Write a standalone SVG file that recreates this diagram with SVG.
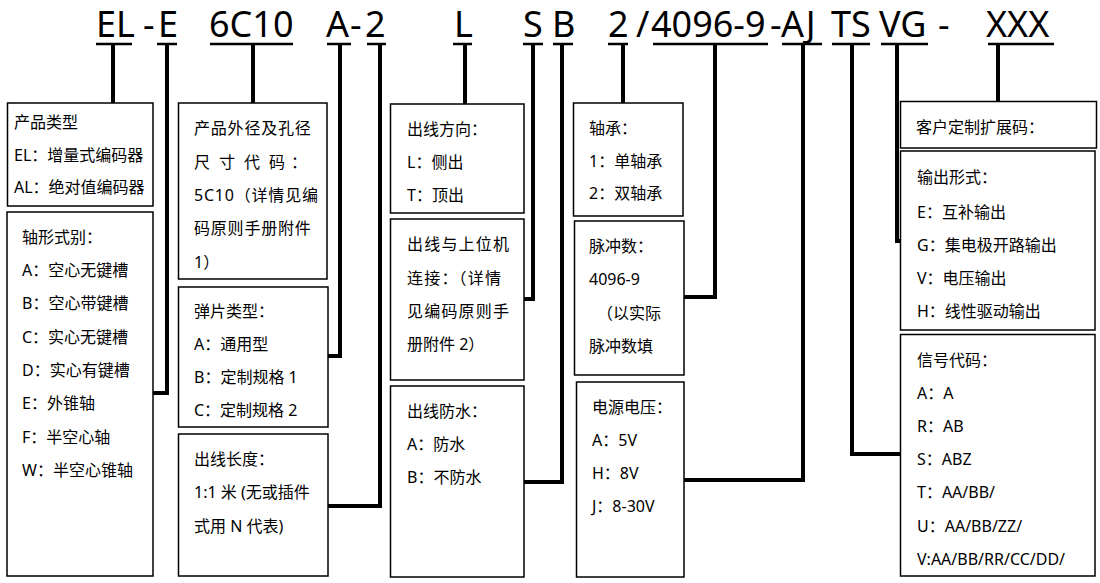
<svg xmlns="http://www.w3.org/2000/svg" width="1100" height="583" viewBox="0 0 1100 583">
<style>
.bg{fill:#fff}
.box{fill:none;stroke:#000;stroke-width:1.5}
.t{font-family:"Noto Sans","Noto Sans CJK SC",sans-serif;font-size:16px;fill:#000}
.h{font-family:"Noto Sans","Noto Sans CJK SC",sans-serif;font-size:36px;fill:#000}
.ul{stroke:#000;stroke-width:2.5}
.c{fill:none;stroke:#000;stroke-width:4;stroke-linejoin:miter;stroke-linecap:butt}
.sp{letter-spacing:0.8px}
.sp2{letter-spacing:1.2px}
</style>
<rect class="bg" x="0" y="0" width="1100" height="583"/>

<g id="header">
<text class="h" x="96" y="37">EL</text>
<text class="h" x="143" y="37">-</text>
<text class="h" x="158" y="37">E</text>
<text class="h" x="209" y="37">6C10</text>
<text class="h" x="326" y="37">A</text>
<text class="h" x="350" y="37">-</text>
<text class="h" x="365" y="37">2</text>
<text class="h" x="454" y="37">L</text>
<text class="h" x="523" y="37">S</text>
<text class="h" x="552" y="37">B</text>
<text class="h" x="608" y="37">2</text>
<text class="h" x="636" y="37">/</text>
<text class="h" x="651" y="37">4096-9</text>
<text class="h" x="770" y="37">-</text>
<text class="h" x="781" y="37">AJ</text>
<text class="h" x="831" y="37">TS</text>
<text class="h" x="879" y="37">VG</text>
<text class="h" x="938" y="37">-</text>
<text class="h" x="986" y="37">XXX</text>
<line class="ul" x1="96" y1="44" x2="132" y2="44"/>
<line class="ul" x1="157" y1="44" x2="177" y2="44"/>
<line class="ul" x1="210" y1="44" x2="293" y2="44"/>
<line class="ul" x1="327" y1="44" x2="351" y2="44"/>
<line class="ul" x1="367" y1="44" x2="386" y2="44"/>
<line class="ul" x1="453" y1="44" x2="472" y2="44"/>
<line class="ul" x1="523" y1="44" x2="543" y2="44"/>
<line class="ul" x1="553" y1="44" x2="573" y2="44"/>
<line class="ul" x1="608" y1="44" x2="628" y2="44"/>
<line class="ul" x1="653" y1="44" x2="768" y2="44"/>
<line class="ul" x1="782" y1="44" x2="822" y2="44"/>
<line class="ul" x1="832" y1="44" x2="870" y2="44"/>
<line class="ul" x1="881" y1="44" x2="928" y2="44"/>
<line class="ul" x1="988" y1="44" x2="1054" y2="44"/>
</g>

<g id="connectors">
<path class="c" d="M113 44V103"/>
<path class="c" d="M167 44V393H153"/>
<path class="c" d="M253 44V103"/>
<path class="c" d="M340 44V356H328"/>
<path class="c" d="M380 44V506H328"/>
<path class="c" d="M465 44V104"/>
<path class="c" d="M533 44V299H524"/>
<path class="c" d="M562 44V482H524"/>
<path class="c" d="M623 44V103"/>
<path class="c" d="M715 44V297H684"/>
<path class="c" d="M803 44V480H684"/>
<path class="c" d="M852 44V454H900"/>
<path class="c" d="M897 44V241H900"/>
<path class="c" d="M998 44V101"/>
</g>

<g id="n-product-type">
<rect class="box" x="7.5" y="103" width="145.5" height="103"/>
<text class="t" x="14" y="128">产品类型</text>
<text class="t" x="14" y="161">EL：增量式编码器</text>
<text class="t" x="14" y="193">AL：绝对值编码器</text>
</g>

<g id="n-shaft">
<rect class="box" x="7" y="212" width="146" height="364"/>
<text class="t" x="22" y="243">轴形式别：</text>
<text class="t" x="22" y="276">A：空心无键槽</text>
<text class="t" x="22" y="309">B：空心带键槽</text>
<text class="t" x="22" y="343">C：实心无键槽</text>
<text class="t" x="22" y="376">D：实心有键槽</text>
<text class="t" x="22" y="409">E：外锥轴</text>
<text class="t" x="22" y="443">F：半空心轴</text>
<text class="t" x="22" y="476">W：半空心锥轴</text>
</g>

<g id="n-size">
<rect class="box" x="178.5" y="103" width="148.5" height="176"/>
<text class="t sp" x="194" y="134">产品外径及孔径</text>
<text class="t" x="194 219 244 269 291" y="168">尺寸代码：</text>
<text class="t sp" x="194" y="201">5C10（详情见编</text>
<text class="t sp" x="194" y="234">码原则手册附件</text>
<text class="t" x="194" y="268">1）</text>
</g>

<g id="n-spring">
<rect class="box" x="178.5" y="287" width="149.5" height="140"/>
<text class="t" x="194" y="317">弹片类型：</text>
<text class="t" x="194" y="350">A：通用型</text>
<text class="t" x="194" y="383">B：定制规格 1</text>
<text class="t" x="194" y="416">C：定制规格 2</text>
</g>

<g id="n-cable-length">
<rect class="box" x="178.5" y="434" width="149.5" height="142"/>
<text class="t" x="194" y="465">出线长度：</text>
<text class="t" x="194" y="498">1:1 米 (无或插件</text>
<text class="t" x="194" y="532">式用 N 代表)</text>
</g>

<g id="n-cable-dir">
<rect class="box" x="390.5" y="104" width="133.5" height="109"/>
<text class="t" x="407" y="135">出线方向：</text>
<text class="t" x="407" y="168">L：侧出</text>
<text class="t" x="407" y="201">T：顶出</text>
</g>

<g id="n-cable-conn">
<rect class="box" x="390.5" y="219" width="133.5" height="161"/>
<text class="t sp2" x="407" y="250">出线与上位机</text>
<text class="t sp2" x="407" y="284">连接：（详情</text>
<text class="t sp2" x="407" y="317">见编码原则手</text>
<text class="t" x="407" y="350">册附件 2）</text>
</g>

<g id="n-waterproof">
<rect class="box" x="390.5" y="386" width="133.5" height="191"/>
<text class="t" x="407" y="417">出线防水：</text>
<text class="t" x="407" y="450">A：防水</text>
<text class="t" x="407" y="483">B：不防水</text>
</g>

<g id="n-bearing">
<rect class="box" x="573.5" y="103" width="109.5" height="113"/>
<text class="t" x="589" y="134">轴承：</text>
<text class="t" x="589" y="167">1：单轴承</text>
<text class="t" x="589" y="199">2：双轴承</text>
</g>

<g id="n-pulse">
<rect class="box" x="574.5" y="221" width="109.5" height="154"/>
<text class="t" x="589" y="252">脉冲数：</text>
<text class="t" x="589" y="285">4096-9</text>
<text class="t" x="597" y="319">（以实际</text>
<text class="t" x="589" y="352">脉冲数填</text>
</g>

<g id="n-voltage">
<rect class="box" x="576.5" y="382" width="107.5" height="195"/>
<text class="t" x="592" y="413">电源电压：</text>
<text class="t" x="592" y="446">A：5V</text>
<text class="t" x="592" y="479">H：8V</text>
<text class="t" x="592" y="512">J：8-30V</text>
</g>

<g id="n-custom">
<rect class="box" x="900.5" y="101.5" width="196" height="46.5"/>
<text class="t" x="916" y="133">客户定制扩展码：</text>
</g>

<g id="n-output">
<rect class="box" x="900.5" y="151" width="194.5" height="179"/>
<text class="t" x="917" y="183">输出形式：</text>
<text class="t" x="917" y="218">E：互补输出</text>
<text class="t" x="917" y="251">G：集电极开路输出</text>
<text class="t" x="917" y="284">V：电压输出</text>
<text class="t" x="917" y="317">H：线性驱动输出</text>
</g>

<g id="n-signal">
<rect class="box" x="900.5" y="334.5" width="194.5" height="241.5"/>
<text class="t" x="917" y="366">信号代码：</text>
<text class="t" x="917" y="399">A：A</text>
<text class="t" x="917" y="432">R：AB</text>
<text class="t" x="917" y="465">S：ABZ</text>
<text class="t" x="917" y="498">T：AA/BB/</text>
<text class="t" x="917" y="532">U：AA/BB/ZZ/</text>
<text class="t" x="917" y="565">V:AA/BB/RR/CC/DD/</text>
</g>
</svg>
